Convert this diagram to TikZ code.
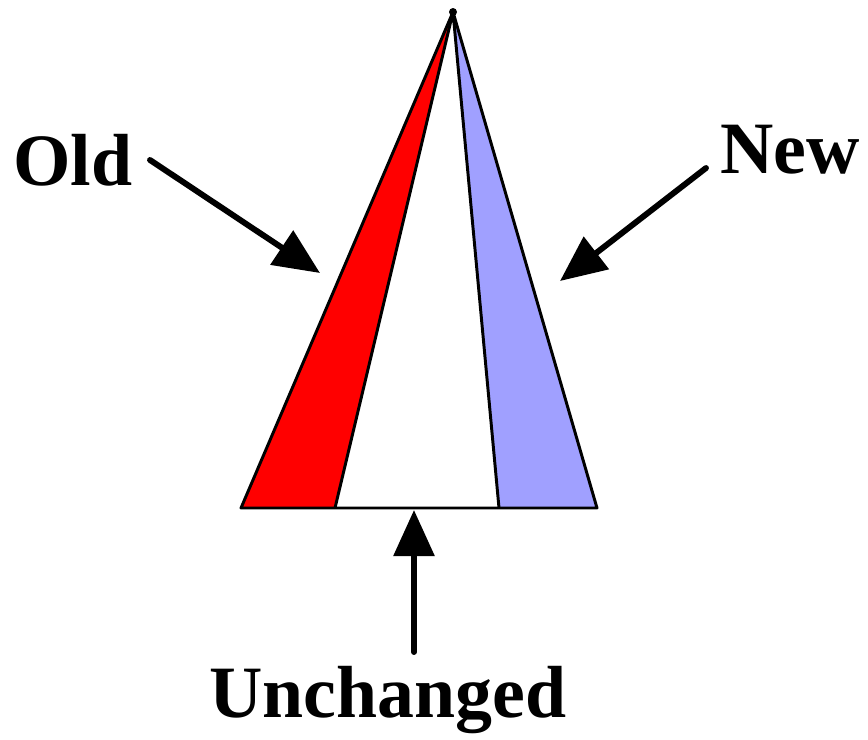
\documentclass[tikz,border=0pt]{standalone}
\usepackage{fontspec}
\setmainfont{Liberation Serif}
\usetikzlibrary{arrows.meta,positioning}
\definecolor{oldred}{RGB}{255,0,0}
\definecolor{newblue}{RGB}{160,160,255}
\tikzset{
  wedge/.style={draw=black, line width=2.1pt, line join=round},
  lbl/.style={font=\fontsize{52.5}{60}\selectfont\bfseries, inner sep=0pt},
  arr/.style={-{Triangle[length=1.15cm, width=1.0cm]}, line width=4.2pt, line cap=round}
}
\begin{document}
\begin{tikzpicture}[x=0.025cm, y=-0.025cm]
  \useasboundingbox (0,0) rectangle (868,739);
  % triangle corners
  \coordinate (top) at (453,12);
  \coordinate (bl) at (241,508);
  \coordinate (ml) at (335,508);
  \coordinate (mr) at (499,508);
  \coordinate (br) at (597,508);
  \fill[oldred] (bl) -- (top) -- (ml) -- cycle;
  \fill[newblue] (mr) -- (top) -- (br) -- cycle;
  \draw[wedge] (bl) -- (top) -- (br) -- cycle;
  \draw[wedge] (ml) -- (top) -- (mr);
  \fill (top) circle (4);
  % labels
  \node[lbl] (old) at (73,160) {Old};
  \node[lbl] (new) at (790,150) {New};
  \node[lbl] (unch) at (388,700) {Unchanged};
  \coordinate (oldtail) at (150,160);
  \coordinate (oldtip) at (320,273);
  \coordinate (newtail) at (706,168);
  \coordinate (newtip) at (560,281);
  \coordinate (untail) at (414,652);
  \coordinate (untip) at (414,510);
  \draw[arr] (oldtail) -- (oldtip);
  \draw[arr] (newtail) -- (newtip);
  \draw[arr] (untail) -- (untip);
\end{tikzpicture}
\end{document}
